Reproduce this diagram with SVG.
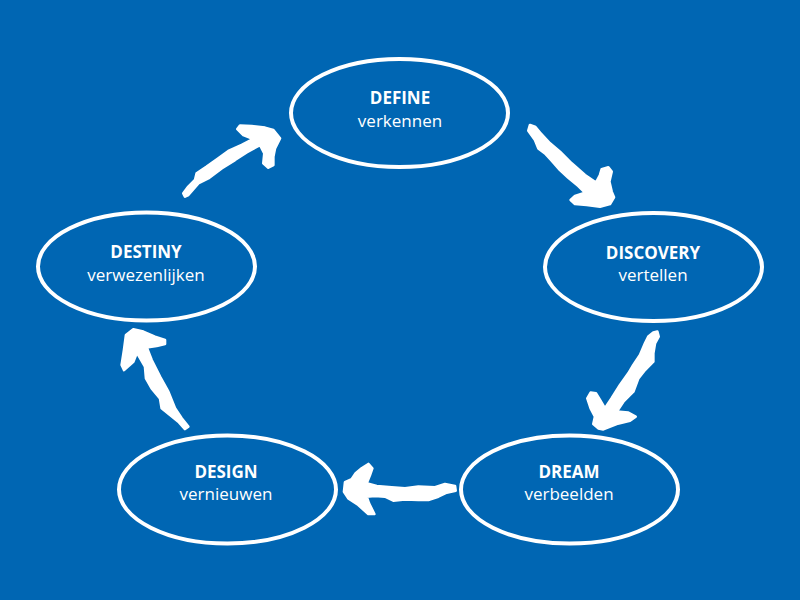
<svg xmlns="http://www.w3.org/2000/svg" width="800" height="600" viewBox="0 0 800 600">
<style>
.n{fill:none;stroke:#fff;stroke-width:4}
text{font-family:"Open Sans","Noto Sans",sans-serif;font-size:17px;fill:#fff;text-anchor:middle}
.b{font-weight:700}
.a{fill:#fff;stroke:#fff;stroke-width:8;stroke-linejoin:round}
</style>
<rect width="800" height="600" fill="#0066b3"/>
<g id="connectors">
<polygon class="a" transform="translate(510 110) scale(.3333)" points="60,45 75,50 90,68 120,100 150,125 185,160 225,195 258,218 270,195 275,178 295,172 305,185 298,215 305,245 312,262 300,282 270,290 230,285 195,282 182,270 195,258 225,248 205,228 175,203 150,180 125,152 105,130 85,115 75,90 55,62"/>
<polygon class="a" transform="translate(570 320) scale(.3333)" points="250,38 262,35 266,50 255,70 250,100 250,125 225,150 205,175 190,215 160,245 140,275 175,278 197,290 180,302 140,312 100,328 85,325 70,312 75,290 62,265 52,235 62,218 78,220 90,240 105,265 125,235 150,195 175,160 190,135 210,105 225,70 235,50"/>
<polygon class="a" transform="translate(335 450) scale(.3333)" points="360,108 362,122 335,128 310,140 280,150 250,150 210,148 175,152 150,140 120,138 95,140 102,160 118,192 100,192 70,165 40,145 27,125 30,97 50,88 62,70 80,55 100,42 112,55 105,75 95,100 125,108 170,112 210,115 250,110 300,112 330,102"/>
<polygon class="a" transform="translate(110 320) scale(.3333)" points="235,320 225,327 205,305 180,285 155,265 150,235 125,205 108,175 105,140 85,105 80,100 70,125 42,150 35,135 42,90 48,45 70,28 100,35 135,50 165,60 165,72 140,78 110,82 125,120 150,170 175,215 195,265 215,295"/>
<polygon class="a" transform="translate(175 115) scale(.3333)" points="25,235 40,215 60,195 65,175 95,155 130,130 160,108 200,90 235,72 205,60 187,42 195,32 230,33 270,38 295,45 315,70 300,100 295,125 295,150 280,158 265,145 268,115 255,90 215,112 180,135 140,160 100,190 70,205 40,240 30,245"/>
</g>
<g id="define"><ellipse class="n" cx="399.5" cy="113" rx="108.5" ry="54"/><text class="b" x="400" y="104">DEFINE</text><text x="400" y="127">verkennen</text></g>
<g id="discovery"><ellipse class="n" cx="653.5" cy="267" rx="108.5" ry="54"/><text class="b" x="653" y="259">DISCOVERY</text><text x="653" y="281">vertellen</text></g>
<g id="dream"><ellipse class="n" cx="569.5" cy="489.5" rx="108.5" ry="54"/><text class="b" x="569" y="478">DREAM</text><text x="569" y="500">verbeelden</text></g>
<g id="design"><ellipse class="n" cx="227.5" cy="489.5" rx="108.5" ry="54"/><text class="b" x="226" y="478">DESIGN</text><text x="226" y="500">vernieuwen</text></g>
<g id="destiny"><ellipse class="n" cx="146.5" cy="266.5" rx="108.5" ry="54"/><text class="b" x="146" y="258">DESTINY</text><text x="146" y="281">verwezenlijken</text></g>
</svg>
